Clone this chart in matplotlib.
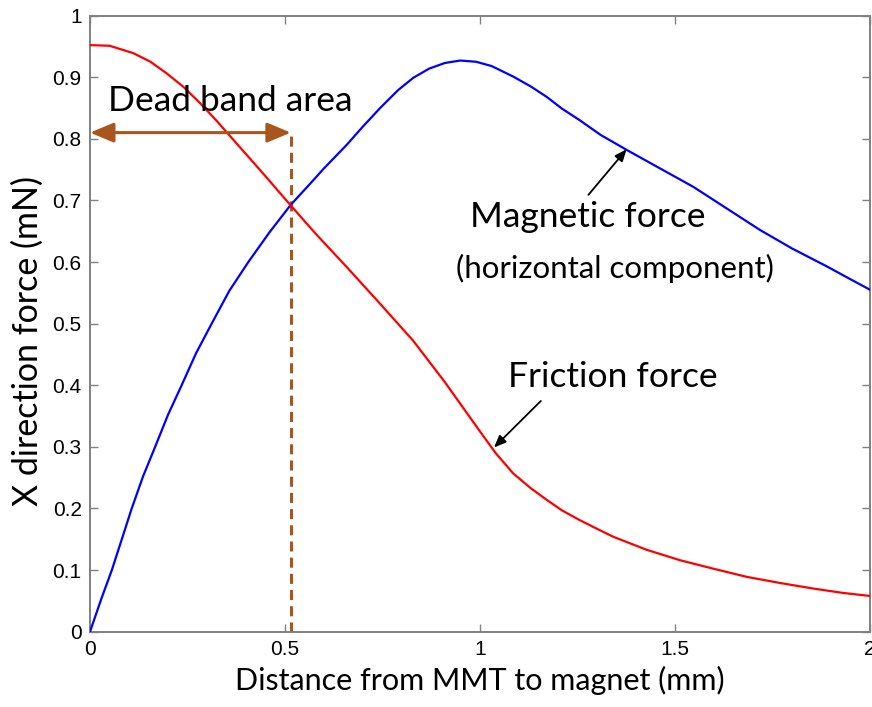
import matplotlib
matplotlib.use("Agg")
from matplotlib import pyplot as plt

# distancia entre MMT e iman (mm) y fuerzas en direccion X (mN)
dist_mag = [0, 0.03, 0.056, 0.08, 0.107, 0.136, 0.167, 0.2, 0.235, 0.272,
            0.312, 0.357, 0.406, 0.46, 0.515, 0.56, 0.6, 0.658, 0.7, 0.744,
            0.79, 0.829, 0.87, 0.91, 0.949, 0.99, 1.03, 1.085, 1.13, 1.171,
            1.21, 1.256, 1.31, 1.376, 1.45, 1.547, 1.63, 1.718, 1.8, 1.889,
            1.95, 2.0]
fuerza_mag = [0, 0.055, 0.1, 0.147, 0.2, 0.252, 0.3, 0.352, 0.4, 0.452,
              0.5, 0.553, 0.6, 0.648, 0.693, 0.724, 0.752, 0.79, 0.82, 0.85,
              0.879, 0.899, 0.914, 0.923, 0.927, 0.925, 0.918, 0.901, 0.885, 0.868,
              0.849, 0.83, 0.806, 0.782, 0.756, 0.722, 0.688, 0.652, 0.622, 0.593,
              0.572, 0.555]

dist_fric = [0, 0.05, 0.111, 0.155, 0.197, 0.24, 0.282, 0.325, 0.368, 0.41,
             0.453, 0.513, 0.58, 0.658, 0.74, 0.829, 0.91, 1.0, 1.04, 1.085,
             1.13, 1.171, 1.21, 1.256, 1.3, 1.342, 1.427, 1.513, 1.6, 1.684,
             1.77, 1.855, 1.93, 2.0]
fuerza_fric = [0.952, 0.951, 0.939, 0.925, 0.906, 0.884, 0.858, 0.829, 0.798, 0.768,
               0.737, 0.693, 0.645, 0.592, 0.535, 0.472, 0.405, 0.325, 0.29, 0.257,
               0.233, 0.214, 0.197, 0.181, 0.167, 0.154, 0.133, 0.116, 0.102, 0.089,
               0.079, 0.070, 0.063, 0.058]

zona_muerta = 0.515
nivel_flecha = 0.81

xticks = [0, 0.5, 1, 1.5, 2]
xtick_labels = ["0", "0.5", "1", "1.5", "2"]
yticks = [0, 0.1, 0.2, 0.3, 0.4, 0.5, 0.6, 0.7, 0.8, 0.9, 1]
ytick_labels = ["0", "0.1", "0.2", "0.3", "0.4", "0.5", "0.6", "0.7", "0.8", "0.9", "1"]

marron = "#A9561E"
gris = "#808080"

fig = plt.figure(figsize=(8.72, 7.07), dpi=100)
ax = fig.add_axes([0.1032, 0.1065, 0.8945, 0.8715])

ax.plot(dist_mag, fuerza_mag, color="#0000FF", lw=1.6, zorder=3)
ax.plot(dist_fric, fuerza_fric, color="#FF0000", lw=1.6, zorder=3)

# linea discontinua del limite de la zona muerta
ax.plot([zona_muerta, zona_muerta], [0, nivel_flecha], color=marron, lw=2.2,
        linestyle=(0, (3.3, 2.0)), zorder=2)

# flecha doble de la zona muerta
ax.annotate("", xy=(zona_muerta, nivel_flecha), xytext=(0, nivel_flecha),
            arrowprops=dict(arrowstyle="<|-|>,head_length=0.72,head_width=0.3",
                            color=marron, lw=2.2, shrinkA=0, shrinkB=0,
                            mutation_scale=20), zorder=4)

fuente = "Lato"
ax.text(0.359, 0.862, "Dead band area", fontsize=25.5, family=fuente,
        ha="center", va="center")
ax.text(1.277, 0.673, "Magnetic force", fontsize=25.5, family=fuente,
        ha="center", va="center")
ax.text(1.346, 0.590, "(horizontal component)", fontsize=22.5, family=fuente,
        ha="center", va="center")
ax.text(1.341, 0.413, "Friction force", fontsize=25.5, family=fuente,
        ha="center", va="center")

flecha = dict(arrowstyle="-|>,head_length=0.6,head_width=0.25", color="black",
              lw=1.3, shrinkA=0, shrinkB=0, mutation_scale=12)
ax.annotate("", xy=(1.376, 0.783), xytext=(1.278, 0.709), arrowprops=flecha)
ax.annotate("", xy=(1.036, 0.299), xytext=(1.156, 0.3745), arrowprops=flecha)

ax.set_xlim(0, 2)
ax.set_ylim(0, 1)
ax.set_xticks(xticks)
ax.set_xticklabels(xtick_labels, family="Liberation Sans", fontsize=15)
ax.set_yticks(yticks)
ax.set_yticklabels(ytick_labels, family="Liberation Sans", fontsize=15)
ax.tick_params(direction="in", length=6, width=1, color=gris,
               top=True, right=True, pad=6)

for lado in ax.spines.values():
    lado.set_color(gris)
    lado.set_linewidth(1.4)

ax.set_xlabel("Distance from MMT to magnet (mm)", family=fuente, fontsize=22, labelpad=5)
fig.text(0.0321, 0.5177, "X direction force (mN)", family=fuente, fontsize=24.5,
         rotation=90, ha="center", va="center")

fig.savefig("out.png", dpi=100)
